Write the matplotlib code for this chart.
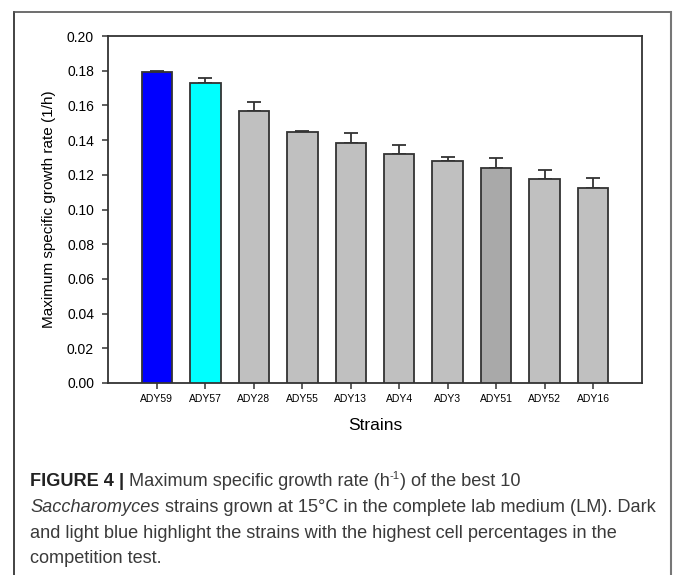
import matplotlib
matplotlib.use("Agg")
import matplotlib.pyplot as plt
from matplotlib.lines import Line2D
import numpy as np

strains = ["ADY59", "ADY57", "ADY28", "ADY55", "ADY13", "ADY4", "ADY3", "ADY51", "ADY52", "ADY16"]
growth_rate = [0.179, 0.173, 0.157, 0.1445, 0.1385, 0.132, 0.128, 0.124, 0.1175, 0.1125]
error_up = [0.0008, 0.003, 0.005, 0.0008, 0.0055, 0.005, 0.002, 0.0055, 0.005, 0.0055]
bar_colors = ["#0000FF", "#00FFFF", "#C0C0C0", "#C0C0C0", "#C0C0C0", "#C0C0C0",
              "#C0C0C0", "#A9A9A9", "#C0C0C0", "#C0C0C0"]
yticks = [0.00, 0.02, 0.04, 0.06, 0.08, 0.10, 0.12, 0.14, 0.16, 0.18, 0.20]

W, H = 673, 575
fig = plt.figure(figsize=(W / 100, H / 100), dpi=100)
plt.rcParams['font.family'] = ['Liberation Sans', 'DejaVu Sans']

edge = "#333333"
ax = fig.add_axes([108 / W, 1 - 383 / H, (642 - 108) / W, (383 - 36) / H])
x = np.arange(len(strains))
ax.bar(x, growth_rate, width=0.63, color=bar_colors, edgecolor=edge, linewidth=1.3, zorder=3)
ax.errorbar(x, growth_rate, yerr=[np.zeros(len(x)), error_up], fmt='none',
            ecolor=edge, elinewidth=1.3, capsize=4.7, capthick=1.3, zorder=2)
ax.set_xlim(-1.01, 10.01)
ax.set_ylim(0, 0.20)
ax.set_yticks(yticks)
ax.set_yticklabels([f"{v:.2f}" for v in yticks], fontsize=10)
ax.set_xticks(x)
ax.set_xticklabels(strains, fontsize=7.5)
for s in ax.spines.values():
    s.set_linewidth(1.3)
    s.set_color(edge)
ax.tick_params(axis='both', direction='out', length=4, width=1.1, color=edge)
ax.tick_params(axis='y', pad=6)
ax.tick_params(axis='x', pad=4)
ax.set_ylabel("Maximum specific growth rate (1/h)", fontsize=11, labelpad=8)
ax.set_xlabel("Strains", fontsize=12.5, labelpad=10)

# outer frame (left, top, right)
lx, rx, ty = 13.5 / W, 671 / W, 1 - 11.5 / H
fig.add_artist(Line2D([lx, lx], [-0.01, ty], transform=fig.transFigure, color="#222222", lw=1.2))
fig.add_artist(Line2D([lx, rx], [ty, ty], transform=fig.transFigure, color="#555555", lw=1.2))
fig.add_artist(Line2D([rx, rx], [-0.01, ty], transform=fig.transFigure, color="#777777", lw=1.5))

# caption
renderer = fig.canvas.get_renderer()
cap_size = 13.1
cap_color = "#3a3a3a"

def draw_line(pieces, x0, y0):
    xpos = x0
    for txt, style in pieces:
        kw = dict(fontsize=cap_size, color=cap_color, va='baseline', ha='left')
        yy = y0
        if style == 'b':
            kw['fontweight'] = 'bold'
            kw['color'] = '#222222'
        elif style == 'i':
            kw['fontstyle'] = 'italic'
        elif style == 'sup':
            kw['fontsize'] = cap_size * 0.62
            yy = y0 - 7
        t = fig.text(xpos / W, 1 - yy / H, txt, **kw)
        bb = t.get_window_extent(renderer)
        xpos += bb.width

lines = [
    [("FIGURE 4", 'b'), (" | ", 'b'), ("Maximum specific growth rate (h", 'n'), ("-1", 'sup'),
     (") of the best 10", 'n')],
    [("Saccharomyces", 'i'), (" strains grown at 15\u00b0C in the complete lab medium (LM). Dark", 'n')],
    [("and light blue highlight the strains with the highest cell percentages in the", 'n')],
    [("competition test.", 'n')],
]
baselines = [486, 512, 538, 563]
for pcs, yb in zip(lines, baselines):
    draw_line(pcs, 30, yb)

fig.savefig("out.png", dpi=100)
